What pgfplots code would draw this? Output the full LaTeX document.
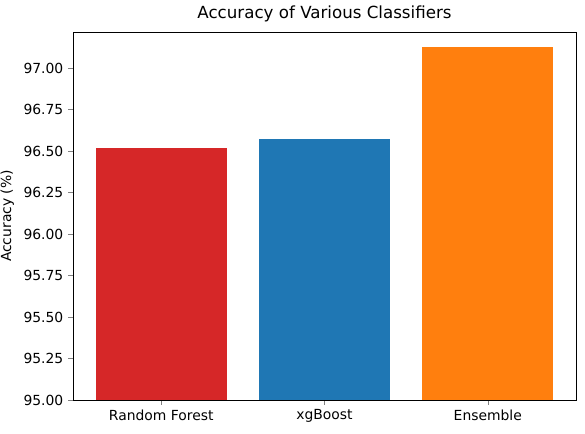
\documentclass[border=0pt]{standalone}
\usepackage{pgfplots}
\pgfplotsset{compat=1.18}
\usepackage{fontspec}
\setmainfont{DejaVu Sans}
\definecolor{c1}{HTML}{D62728}
\definecolor{c2}{HTML}{1F77B4}
\definecolor{c3}{HTML}{FF7F0E}
\begin{document}
\begin{tikzpicture}
\begin{axis}[
  scale only axis, width=362pt, height=265pt,
  xmin=-0.54, xmax=2.54, ymin=95, ymax=97.217,
  xtick={0,1,2}, xticklabels={Random Forest,xgBoost,Ensemble},
  ytick={95,95.25,95.5,95.75,96,96.25,96.5,96.75,97},
  yticklabel style={/pgf/number format/fixed,/pgf/number format/fixed zerofill,/pgf/number format/precision=2},
  /pgf/number format/assume math mode=true,
  ticklabel style={font=\fontsize{10}{12}\selectfont},
  tick align=outside, tick pos=left, major tick length=3.5pt,
  ylabel={Accuracy (\%)}, ylabel style={font=\fontsize{10}{12}\selectfont},
  title={Accuracy of Various Classifiers}, title style={font=\fontsize{12}{14}\selectfont, yshift=-2pt},
  axis line style={line width=0.6pt},
]
\addplot[ybar, bar width=0.8, bar shift=0pt, fill=c1, draw=none] coordinates {(0,96.518)};
\addplot[ybar, bar width=0.8, bar shift=0pt, fill=c2, draw=none] coordinates {(1,96.572)};
\addplot[ybar, bar width=0.8, bar shift=0pt, fill=c3, draw=none] coordinates {(2,97.127)};
\end{axis}
\pgfresetboundingbox
\path (current axis.south west)++(-52.6pt,-23.8pt) coordinate (a);
\path (current axis.north east)++(6.5pt,23pt) coordinate (b);
\useasboundingbox (a) rectangle (b);
\end{tikzpicture}
\end{document}
